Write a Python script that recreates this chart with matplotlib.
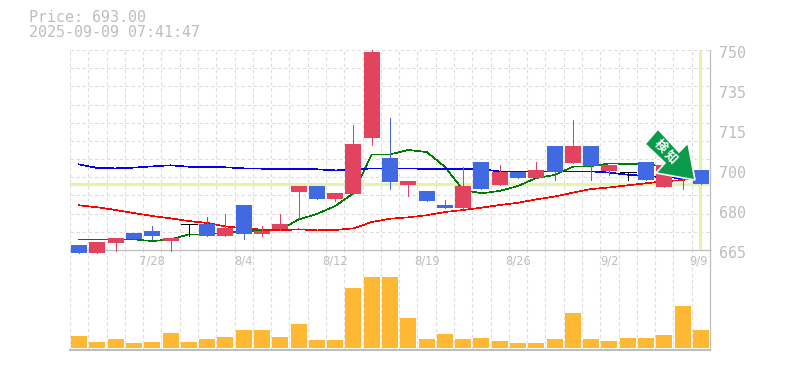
import numpy as np
import matplotlib
matplotlib.use('Agg')
import matplotlib.pyplot as plt
from matplotlib.patches import Polygon, Rectangle

W, H = 785, 370

# prices
opens = [667.1, 663.7, 668.0, 672.2, 673.1, 668.8, 676.05, 676.05, 670.95, 684.1,
         671.8, 673.9, 689.65, 692.2, 686.7, 688.8, 712.6, 704.1, 692.6, 690.1,
         684.1, 682.85, 702.4, 692.6, 698.3, 695.6, 709.2, 702.0, 709.2, 698.6,
         698.0, 702.4, 691.8, 699.0, 699.0]
closes = [663.7, 668.4, 670.1, 669.7, 670.95, 670.1, 676.05, 670.95, 674.35, 671.8,
          673.1, 676.05, 692.2, 686.7, 689.2, 710.05, 749.15, 693.9, 694.3, 685.8,
          682.85, 692.2, 690.9, 698.3, 695.6, 699.0, 698.15, 709.2, 700.7, 701.1,
          698.0, 694.75, 701.1, 697.0, 693.0]
highs = [667.1, 668.4, 670.1, 672.2, 675.2, 670.1, 676.05, 679.0, 680.3, 684.1,
         675.2, 680.3, 692.2, 692.2, 689.2, 718.1, 750.0, 721.1, 694.3, 690.1,
         686.25, 700.3, 702.4, 701.1, 698.3, 702.4, 709.2, 720.25, 709.2, 701.1,
         698.0, 702.4, 701.1, 699.0, 699.0]
lows = [663.7, 663.7, 664.7, 669.7, 669.7, 664.7, 671.1, 670.95, 670.95, 669.7,
        670.95, 673.5, 678.6, 686.7, 685.8, 688.8, 709.6, 690.9, 688.1, 685.8,
        682.85, 682.85, 690.9, 692.6, 695.6, 695.6, 694.75, 702.0, 694.75, 696.9,
        694.75, 694.75, 691.8, 690.9, 693.0]

ma_blue = [701.4, 699.85, 699.7, 700.0, 700.55, 701.0, 700.4, 700.15, 700.15, 699.7,
           699.55, 699.3, 699.3, 699.3, 698.85, 699.0, 699.7, 699.7, 699.7, 699.4,
           699.3, 699.3, 699.3, 698.4, 698.4, 698.4, 698.4, 698.4, 698.4, 697.9,
           697.0, 696.45, 695.9, 695.6, 695.3]
ma_green = [669.5, 669.5, 669.5, 669.5, 668.8, 669.5, 671.65, 671.65, 672.35, 672.8,
            673.5, 673.5, 678.0, 680.3, 683.7, 689.1, 705.65, 705.65, 707.5, 706.65,
            700.4, 690.5, 689.1, 690.1, 692.2, 695.6, 696.9, 700.4, 700.7, 701.8,
            701.55, 701.55, 700.4, 698.3, 696.2]
ma_red = [684.0, 683.15, 682.0, 680.7, 679.45, 678.45, 677.3, 676.5, 675.05, 674.2,
          673.65, 673.35, 673.8, 673.35, 673.5, 674.2, 676.9, 678.3, 678.9, 679.75,
          681.15, 682.0, 683.0, 684.1, 685.1, 686.5, 687.7, 689.35, 690.9, 691.6,
          692.5, 693.35, 694.2, 694.75, 696.2]

volumes = [36, 18, 27, 15, 18, 45, 18, 27, 33, 54, 54, 33, 72, 24, 24, 180, 213, 213,
           90, 27, 42, 27, 30, 21, 15, 15, 27, 105, 27, 21, 30, 30, 39, 126, 54]

tick_slots = [4, 9, 14, 19, 24, 29]
tick_labels = ['7/28', '8/4', '8/12', '8/19', '8/26', '9/2']
price_labels = ['750', '735', '715', '700', '680', '665']
price_now = 693.0

RED = '#E2445F'
BLUE = '#4169E1'
LINE = '#BEBEBE'
GRID = '#DCDCDC'
TXT = '#BDBDBD'
PALE = '#E4F2AA'
MONO = 'DejaVu Sans Mono'

plt.rcParams['font.family'] = ['Noto Sans CJK JP', 'DejaVu Sans']

fig = plt.figure(figsize=(W / 100, H / 100), dpi=100)


def make_axes(top, bottom):
    return fig.add_axes([70 / W, 1 - bottom / H, 640 / W, (bottom - top) / H])


vax = make_axes(250, 350)
ax = make_axes(50, 250)
ax.set_zorder(2)
ax.set_facecolor('none')

ax.set_xlim(0, 35)
ax.set_ylim(665, 750)
vax.set_xlim(0, 35)
vax.set_ylim(-6, 294)

for a in (ax, vax):
    a.set_xticks(range(36))
    a.tick_params(length=0, labelbottom=False, labelleft=False)
    a.grid(True, axis='x', color=GRID, lw=0.8, ls=(0, (3, 2.5)))
    a.set_axisbelow(True)
    for s in ('top', 'left'):
        a.spines[s].set_visible(False)
    a.spines['right'].set_color(LINE)
    a.spines['bottom'].set_color(LINE)
    a.spines['right'].set_linewidth(0.9)

ax.set_yticks(np.linspace(665, 750, 12))
ax.grid(True, axis='y', color=GRID, lw=0.8, ls=(0, (3, 2.5)))
ax.spines['bottom'].set_linewidth(0.9)
vax.spines['bottom'].set_linewidth(1.5)
vax.set_yticks([])

xs = np.arange(35) + 0.5
bar_w = 16 / (640 / 35)

# pale marker lines for the last price and date
ax.axhline(price_now, color=PALE, lw=2.2, zorder=1.5)
ax.plot([xs[-1] - 0.02] * 2, [665.5, 750], color=PALE, lw=2.2, zorder=1.5, solid_capstyle='butt')

# moving averages, the source draws them without smoothing
ax.plot(xs, ma_green, color='#007A00', lw=0.45, zorder=2, antialiased=False)
ax.plot(xs, ma_red, color='#FF0000', lw=0.45, zorder=2, antialiased=False)
ax.plot(xs, ma_blue, color='#0000EE', lw=0.45, zorder=2, antialiased=False)

# candles
for x, o, c, h, l in zip(xs, opens, closes, highs, lows):
    if o == c:
        col = 'black'
    elif c > o:
        col = RED
    else:
        col = BLUE
    ax.plot([x, x], [l, h], color=col, lw=0.7, zorder=3, solid_capstyle='butt', clip_on=False, antialiased=False)
    if o == c:
        ax.plot([x - bar_w / 2, x + bar_w / 2], [o, o], color=col, lw=0.7, zorder=3, solid_capstyle='butt',
                antialiased=False)
    else:
        ax.add_patch(Rectangle((x - bar_w / 2, min(o, c)), bar_w, abs(o - c), fc=col, ec='none', zorder=3,
                               clip_on=False))

vax.bar(xs, volumes, width=bar_w, color='#FFB833', zorder=3)

# date labels
for s, t in zip(tick_slots, tick_labels):
    ax.text(xs[s], 660.3, t, color=TXT, fontsize=8.3, family='DejaVu Sans', ha='center', va='center', clip_on=False)
ax.text(xs[-1] - 0.15, 660.3, '9/9', color=TXT, fontsize=8.3, family='DejaVu Sans', ha='center', va='center', clip_on=False)

# price labels
for i, t in enumerate(price_labels):
    fig.text(719 / W, 1 - (53 + 40 * i) / H, t, color=TXT, fontsize=10.8, family=MONO, ha='left', va='center')

fig.text(29 / W, 1 - 18 / H, 'Price: 693.00', color=TXT, fontsize=10.8, family=MONO, ha='left', va='center')
fig.text(29 / W, 1 - 32.5 / H, '2025-09-09 07:41:47', color=TXT, fontsize=10.8, family=MONO, ha='left', va='center')

# green arrow badge, placed in pixel coordinates
arrow_px = [(658, 129), (645, 144), (665, 163), (656, 173), (695, 180), (688, 143), (679, 152)]
arrow = [(x / W, 1 - y / H) for x, y in arrow_px]
fig.add_artist(Polygon(arrow, closed=True, fc='#0A9A4A', ec='white', lw=1.2, zorder=10, transform=fig.transFigure))
for ch, (px, py) in zip('検知', [(660, 146), (671, 157)]):
    fig.text(px / W, 1 - py / H, ch, color='white', fontsize=9, fontweight='bold', rotation=-45,
             rotation_mode='anchor', ha='center', va='center', zorder=11, family=['Noto Sans CJK JP', 'DejaVu Sans'])

fig.savefig('out.png', dpi=100)
